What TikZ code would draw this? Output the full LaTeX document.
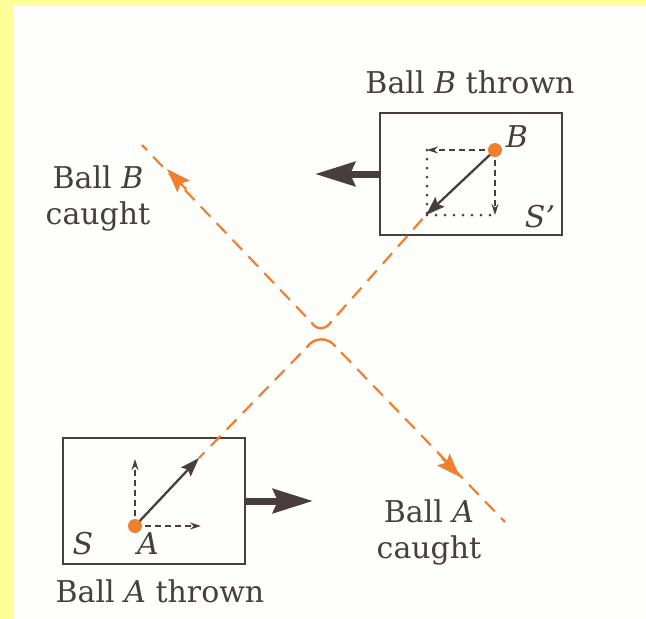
\documentclass[tikz,border=0pt]{standalone}
\usepackage{fontspec}
\setmainfont{DejaVu Serif}
\usetikzlibrary{arrows.meta}
\definecolor{cream}{RGB}{254,254,252}
\definecolor{ylw}{RGB}{255,255,153}
\definecolor{ink}{RGB}{72,62,62}
\definecolor{orng}{RGB}{240,128,48}
\tikzset{
  frame/.style={draw=ink, line width=2pt, inner sep=0pt, fill=none},
  lbl/.style={text=ink, inner sep=0pt, font=\fontsize{30}{36}\selectfont},
  bigarrow/.style={draw=ink, line width=7pt, -{Stealth[length=40pt,width=24pt,inset=5pt]}},
  velarrow/.style={draw=ink, line width=2.3pt, -{Stealth[length=19pt,width=13pt,inset=3pt]}},
  comparrow/.style={draw=ink, line width=1.5pt, dash pattern=on 6pt off 4pt, -{Stealth[length=11pt,width=7pt]}},
  dotline/.style={draw=ink, line width=3pt, line cap=round, dash pattern=on 0pt off 9pt},
  path/.style={draw=orng, line width=2.2pt, dash pattern=on 14pt off 9pt, dash phase=14pt},
  bump/.style={draw=orng, line width=2.4pt, line cap=round},
  pathtip/.style={draw=orng, line width=2.2pt, -{Stealth[length=24pt,width=17pt,inset=4pt]}},
  ball/.style={fill=orng}
}
\begin{document}
\begin{tikzpicture}[x=1pt,y=-1pt]
% background
\useasboundingbox (0,0) rectangle (646,619);
\fill[cream] (0,0) rectangle (646,619);
\fill[ylw] (0,0) rectangle (13,619);
\fill[ylw] (0,0) rectangle (646,5);

% frames
\node[frame, minimum width=182pt, minimum height=122pt] (Sp) at (471,174) {};
\node[frame, minimum width=182pt, minimum height=126pt] (S) at (154,501) {};

% key points
\coordinate (B) at (495,150);
\coordinate (A) at (135,526);
\coordinate (Bend) at (426,215);
\coordinate (Aend) at (199,458);
\coordinate (Bleft) at (427,150);
\coordinate (Bdown) at (495,215);
\coordinate (Aup) at (135,459);
\coordinate (Aright) at (201,526);
\coordinate (SpTip) at (315,174);
\coordinate (STip) at (313,501);

% orange paths (collision)
\coordinate (A1) at (307,347);
\coordinate (A2) at (335,346);
\coordinate (Aca) at (505,522);
\coordinate (B1) at (331,322);
\coordinate (B2) at (312,323);
\coordinate (Bca) at (142,145);
\draw[path] (A1) -- (Aend);
\draw[path] (A2) -- (Aca);
\draw[path] (B1) -- (Bend);
\draw[path] (B2) -- (Bca);
\draw[bump] (A1) .. controls (314,337) and (328,337) .. (A2);
\draw[bump] (B2) .. controls (316,330) and (326,330) .. (B1);
\coordinate (AtipBase) at (442,458);
\coordinate (AtipEnd) at (460,477);
\coordinate (BtipBase) at (186,189);
\coordinate (BtipEnd) at (167,169);
\draw[pathtip] (AtipBase) -- (AtipEnd);
\draw[pathtip] (BtipBase) -- (BtipEnd);

% frame S' contents
\draw[dotline] (Bleft) -- (Bleft |- Bdown);
\draw[dotline] (Bleft |- Bdown) -- (Bdown);
\draw[comparrow] (B) -- (Bleft);
\draw[comparrow] (B) -- (Bdown);
\draw[velarrow] (B) -- (Bend);
\fill[ball] (B) circle (7);

% frame S contents
\draw[comparrow] (A) -- (Aup);
\draw[comparrow] (A) -- (Aright);
\draw[velarrow] (A) -- (Aend);
\fill[ball] (A) circle (7);

% motion arrows
\draw[bigarrow] (Sp.west) -- (SpTip);
\draw[bigarrow] (S.east) -- (STip);

% labels
\node[lbl] (lB) at (517,137) {\textit{B}};
\node[lbl] (lSp) at (540,217) {\textit{S'}};
\node[lbl] (lA) at (148,544) {\textit{A}};
\node[lbl] (lS) at (83,544) {\textit{S}};
\node[lbl, anchor=base] (thrB) at (470,93) {Ball \textit{B} thrown};
\node[lbl, anchor=base] (thrA) at (160,602) {Ball \textit{A} thrown};
\node[lbl, align=center] (caB) at (98,198) {Ball \textit{B}\\caught};
\node[lbl, align=center] (caA) at (429,532) {Ball \textit{A}\\caught};
\end{tikzpicture}
\end{document}
